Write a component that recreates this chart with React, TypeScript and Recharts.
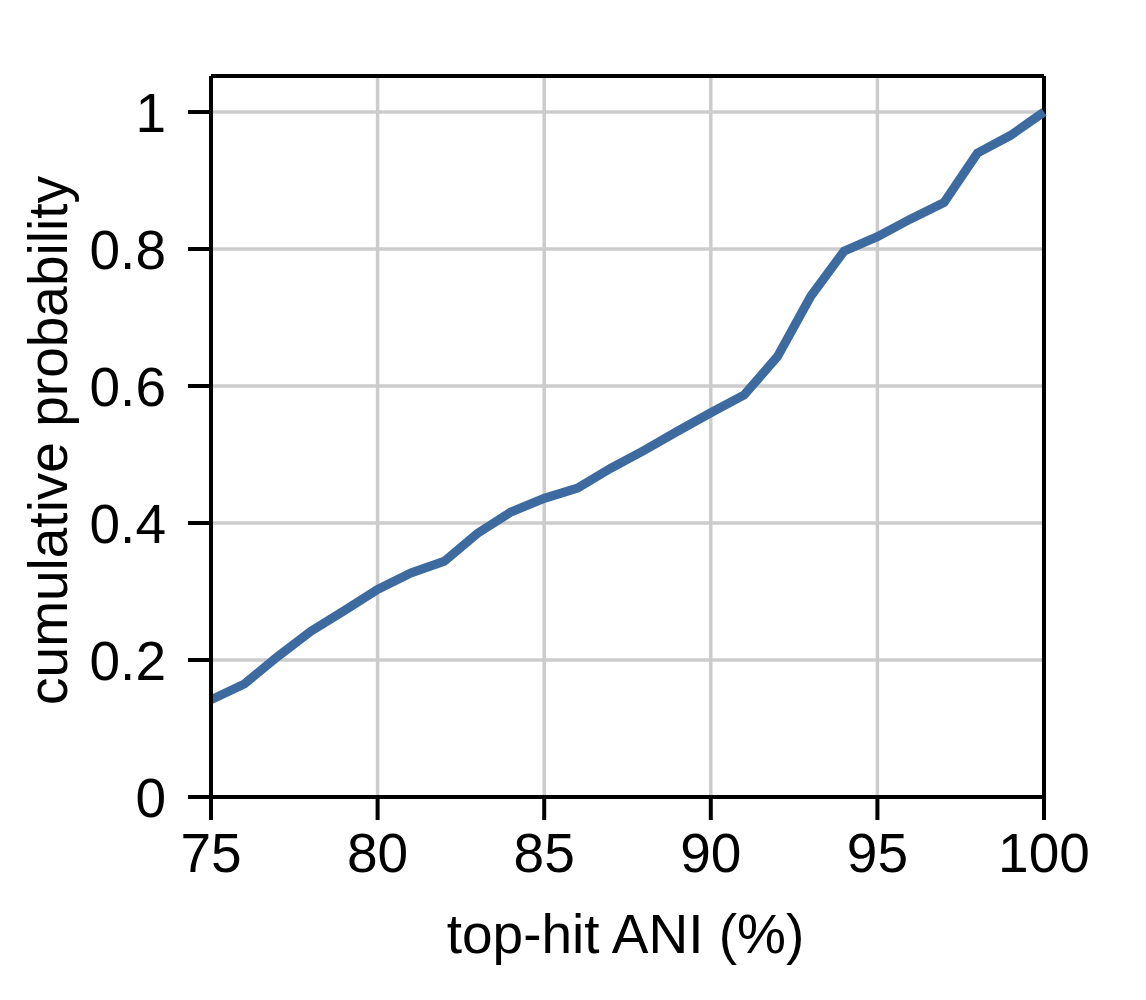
import React from "react";
import { LineChart, Line, XAxis, YAxis, CartesianGrid, ReferenceLine, Label } from "recharts";

const aniValues = [75, 76, 77, 78, 79, 80, 81, 82, 83, 84, 85, 86, 87, 88, 89, 90, 91, 92, 93, 94, 95, 96, 97, 98, 99, 100];
const cumProb = [0.142, 0.165, 0.205, 0.242, 0.272, 0.303, 0.327, 0.344, 0.385, 0.416, 0.436, 0.451, 0.48, 0.506, 0.534, 0.561, 0.587, 0.643, 0.731, 0.797, 0.818, 0.844, 0.868, 0.94, 0.966, 1.0];
const xTicks = [75, 80, 85, 90, 95, 100];
const yTicks = [0, 0.2, 0.4, 0.6, 0.8, 1];
const yMax = 1.0526;

const data = aniValues.map((x, i) => ({ ani: x, p: cumProb[i] }));

const FONT = "'Liberation Sans', Arial, Helvetica, sans-serif";
const FS = 55;

export default function App() {
  return (
    <div style={{ position: "absolute", left: 0, top: 0, background: "#fff" }}>
      <LineChart width={1146} height={1000} data={data} margin={{ top: 76, right: 102, bottom: 0, left: 0 }}>
        <CartesianGrid stroke="#cccccc" strokeWidth={3.5} />
        <XAxis
          dataKey="ani"
          type="number"
          domain={[75, 100]}
          ticks={xTicks}
          height={203}
          axisLine={{ stroke: "#000", strokeWidth: 4 }}
          tickLine={{ stroke: "#000", strokeWidth: 4 }}
          tickSize={23}
          tickMargin={13}
          tick={{ fill: "#000", fontSize: FS, fontFamily: FONT }}
        >
          <Label
            content={(props: any) => {
              const vb = props.viewBox || {};
              return (
                <text x={vb.x + vb.width / 2 - 2} y={953} textAnchor="middle" fontSize={FS} fontFamily={FONT} fill="#000">
                  top-hit ANI (%)
                </text>
              );
            }}
          />
        </XAxis>
        <YAxis
          type="number"
          domain={[0, yMax]}
          ticks={yTicks}
          allowDataOverflow
          width={211}
          axisLine={{ stroke: "#000", strokeWidth: 4 }}
          tickLine={{ stroke: "#000", strokeWidth: 4 }}
          tickSize={23}
          tickMargin={22}
          tickFormatter={(v: number) => String(v)}
          tick={{ fill: "#000", fontSize: FS, fontFamily: FONT }}
        >
          <Label
            content={(props: any) => {
              const vb = props.viewBox || {};
              const cy = vb.y + vb.height / 2 + 4;
              const cx = 48;
              return (
                <text
                  x={cx}
                  y={cy}
                  transform={`rotate(-90, ${cx}, ${cy})`}
                  textAnchor="middle"
                  dominantBaseline="central"
                  fontSize={FS}
                  fontFamily={FONT}
                  fill="#000"
                >
                  cumulative probability
                </text>
              );
            }}
          />
        </YAxis>
        <ReferenceLine y={yMax} stroke="#000" strokeWidth={4} />
        <ReferenceLine x={100} stroke="#000" strokeWidth={4} />
        <Line
          type="linear"
          dataKey="p"
          stroke="#3e6b9f"
          strokeWidth={9}
          dot={false}
          isAnimationActive={false}
        />
      </LineChart>
    </div>
  );
}
